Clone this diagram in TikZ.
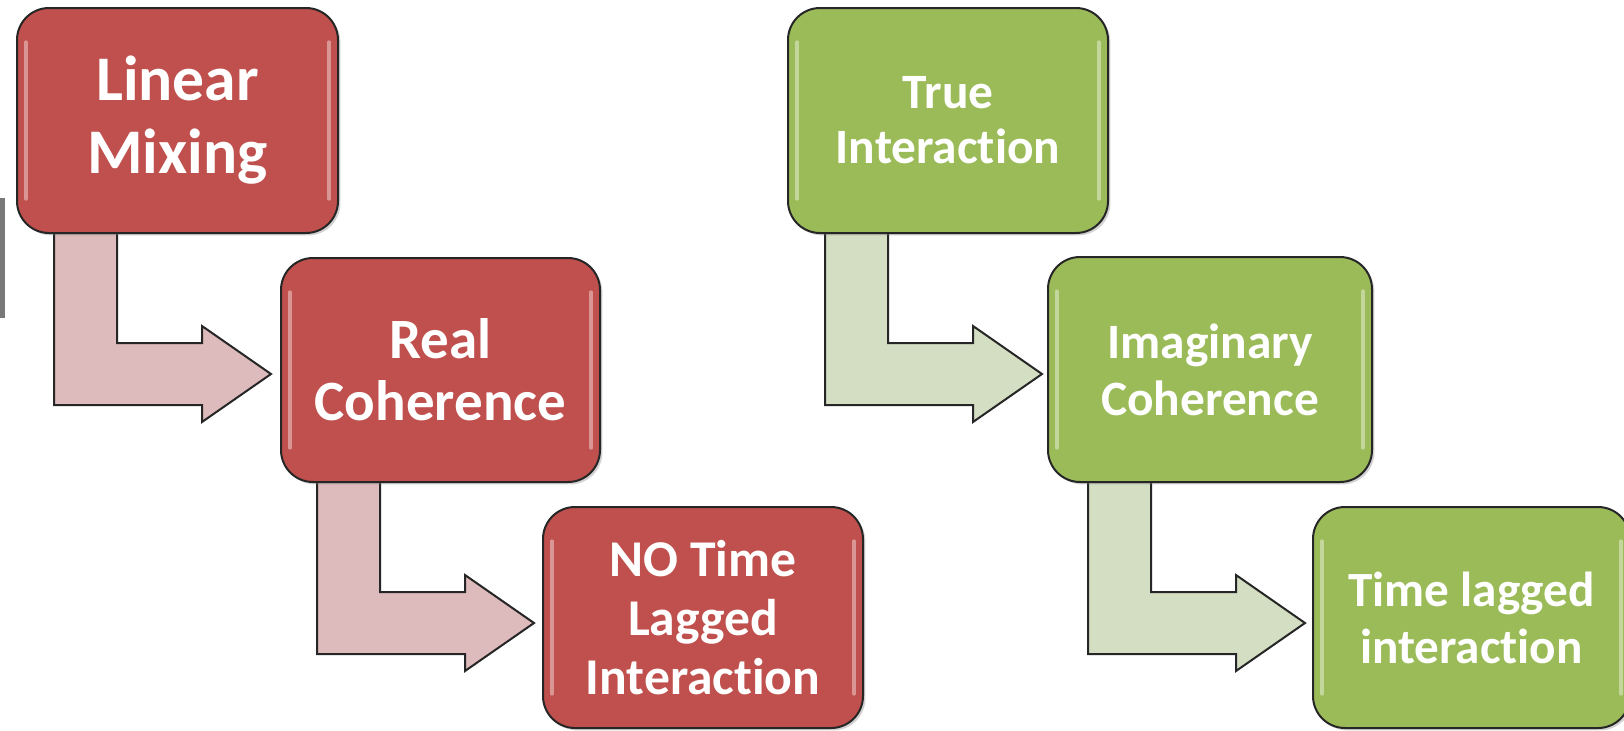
\documentclass[tikz,border=0pt]{standalone}
\usepackage{fontspec}
\setmainfont{Carlito}[Ligatures=NoCommon]
\usetikzlibrary{calc,shadows}
\pgfdeclarelayer{background}
\pgfsetlayers{background,main}
\definecolor{boxred}{HTML}{C0504D}
\definecolor{boxgreen}{HTML}{9BBB59}
\definecolor{arrred}{HTML}{DDBABB}
\definecolor{arrgreen}{HTML}{D3DEC2}
\tikzset{
  panel/.style={draw=black!85, line width=1pt, rounded corners=16pt, inner sep=0pt, outer sep=0pt,
    text=white, align=center,
    drop shadow={opacity=0.35, shadow xshift=1.2pt, shadow yshift=-1.2pt}},
  redpanel/.style={panel, fill=boxred},
  greenpanel/.style={panel, fill=boxgreen},
  bentarrow/.style={draw=black!85, line width=1pt, line join=miter},
  redarrow/.style={bentarrow, fill=arrred},
  greenarrow/.style={bentarrow, fill=arrgreen},
  shine/.style={white, opacity=0.4, line width=1.6pt, line cap=round},
}
\newcommand\glossy[1]{%
  \draw[shine] ($(#1.north west)+(9,34)$) -- ($(#1.south west)+(9,-34)$);
  \draw[shine] ($(#1.north east)+(-9,34)$) -- ($(#1.south east)+(-9,-34)$);}
\newcommand\bentpath{-- ++(0,177) -- ++(148,0) -- ++(0,17) -- ++(69,-48) -- ++(-69,-48) -- ++(0,17) -- ++(-85,0) -- ++(0,-115) -- cycle}
\begin{document}
\begin{tikzpicture}[x=0.5pt,y=-0.5pt]
\useasboundingbox (0,0) rectangle (1624,730);
\clip (0,0) rectangle (1624,730);
\begin{pgfonlayer}{background}
\fill[white] (0,0) rectangle (1624,730);
\end{pgfonlayer}
% fragment at left border
\fill[black!70, opacity=0.75] (0,198) rectangle (5,318);
% boxes
\path (177.5,120.5) node[redpanel, minimum width=160.5pt, minimum height=112.5pt,
  font=\fontsize{31.8}{36.5}\selectfont\bfseries] (b1) {Linear\\Mixing};
\path (440.5,370) node[redpanel, minimum width=159.5pt, minimum height=112pt,
  font=\fontsize{28.5}{31}\selectfont\bfseries] (b2) {Real\\Coherence};
\path (703,617.5) node[redpanel, minimum width=160pt, minimum height=110.5pt,
  font=\fontsize{25.8}{29.5}\selectfont\bfseries] (b3) {NO Time\\Lagged\\Interaction};
\path (948,120.5) node[greenpanel, minimum width=160pt, minimum height=112.5pt,
  font=\fontsize{24.7}{27.5}\selectfont\bfseries] (b4) {True\\Interaction};
\path (1210,369.5) node[greenpanel, minimum width=162pt, minimum height=112.5pt,
  font=\fontsize{24.7}{28.5}\selectfont\bfseries] (b5) {Imaginary\\Coherence};
\path (1471.5,617.5) node[greenpanel, minimum width=158.5pt, minimum height=110.5pt,
  font=\fontsize{24.6}{28.5}\selectfont\bfseries] (b6) {Time lagged\\interaction};
\glossy{b1}\glossy{b2}\glossy{b3}\glossy{b4}\glossy{b5}\glossy{b6}
% bent arrows, behind the boxes
\begin{pgfonlayer}{background}
\draw[redarrow] ($(b1.south west)+(37,-5)$) \bentpath;
\draw[redarrow] ($(b2.south west)+(36,-5)$) \bentpath;
\draw[greenarrow] ($(b4.south west)+(37,-5)$) \bentpath;
\draw[greenarrow] ($(b5.south west)+(40,-5)$) \bentpath;
\end{pgfonlayer}
\end{tikzpicture}
\end{document}
